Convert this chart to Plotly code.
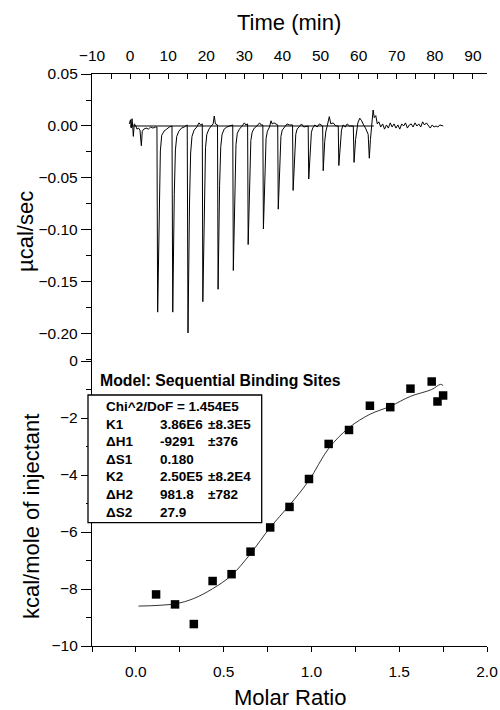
import plotly.graph_objects as go

# raw thermogram (time in min, power in ucal/sec)
raw_time = [
    -0.2, 0.1, 0.3, 0.5, 0.7, 0.85, 1.1, 1.4, 1.8, 2.2, 2.6, 2.95, 3.2, 3.6, 4.2, 4.8, 5.4, 6.0, 6.6, 7.05,
    7.24, 7.65, 7.95, 8.3, 8.9, 9.6, 10.3, 11.0,
    11.2, 11.6, 11.9, 12.25, 12.8, 13.5, 14.2, 15.0,
    15.2, 15.6, 15.9, 16.25, 16.8, 17.5, 18.1, 18.5, 18.95,
    19.1, 19.5, 19.8, 20.15, 20.7, 21.3, 21.8, 22.1, 22.4, 22.95,
    23.1, 23.5, 23.8, 24.15, 24.7, 25.4, 26.1, 26.95,
    27.1, 27.5, 27.8, 28.15, 28.7, 29.4, 30.0, 30.4, 30.85,
    31.0, 31.4, 31.7, 32.05, 32.6, 33.3, 34.0, 34.4, 34.85,
    35.0, 35.4, 35.7, 36.05, 36.6, 37.0, 37.3, 37.8, 38.75,
    38.9, 39.3, 39.6, 39.95, 40.5, 41.2, 41.8, 42.65,
    42.8, 43.2, 43.5, 43.85, 44.4, 45.0, 45.6, 46.75,
    46.9, 47.3, 47.6, 47.95, 48.5, 49.1, 49.7, 50.55,
    50.7, 51.1, 51.4, 51.75, 52.0, 52.3, 52.7, 53.3, 54.0, 54.65,
    54.8, 55.2, 55.5, 55.9, 56.5, 57.0, 57.6, 58.6,
    58.8, 59.2, 59.5, 59.8, 60.3, 60.8, 61.3, 61.8, 62.5,
    62.8, 63.1, 63.4, 63.8, 64.1, 64.5, 64.9, 65.3,
    65.8, 66.3, 66.8, 67.3, 67.8, 68.3, 68.8, 69.3, 69.8, 70.3, 70.8, 71.3,
    71.8, 72.3, 72.8, 73.3, 73.8, 74.3, 74.8, 75.3, 75.8, 76.3, 76.8, 77.3,
    77.8, 78.3, 78.8, 79.3, 79.8, 80.3, 80.8, 81.3, 81.8, 82.2,
]
raw_power = [
    0.002, 0.006, -0.002, 0.007, -0.001, -0.010, 0.002, 0.001, -0.003, -0.002, -0.004, -0.019, -0.005, -0.003, -0.002, -0.003, -0.001, -0.002, -0.001, -0.001,
    -0.179, -0.068, -0.024, -0.009, -0.005, -0.003, -0.001, 0.000,
    -0.179, -0.066, -0.023, -0.010, -0.005, -0.002, -0.001, 0.001,
    -0.199, -0.074, -0.026, -0.010, -0.004, -0.001, 0.003, 0.001, 0.002,
    -0.169, -0.062, -0.021, -0.008, -0.003, 0.000, 0.002, 0.0096, 0.002, 0.001,
    -0.157, -0.057, -0.020, -0.008, -0.003, -0.001, 0.000, 0.001,
    -0.139, -0.051, -0.018, -0.007, -0.003, 0.000, 0.003, 0.001, 0.002,
    -0.114, -0.042, -0.014, -0.006, -0.002, 0.000, 0.003, 0.001, 0.001,
    -0.099, -0.036, -0.012, -0.005, -0.001, 0.005, 0.002, 0.003, 0.001,
    -0.080, -0.029, -0.010, -0.004, -0.001, 0.002, 0.001, 0.001,
    -0.062, -0.023, -0.008, -0.003, 0.000, 0.002, -0.001, 0.000,
    -0.051, -0.018, -0.006, -0.002, 0.001, -0.001, 0.002, 0.000,
    -0.043, -0.015, -0.005, 0.000, 0.004, 0.009, 0.002, 0.003, 0.000, 0.000,
    -0.038, -0.013, -0.004, 0.001, -0.001, 0.002, 0.000, 0.000,
    -0.035, -0.013, -0.003, 0.003, 0.0075, 0.005, 0.001, -0.002, -0.008,
    -0.031, -0.013, 0.000, 0.0154, 0.008, 0.010, 0.002, 0.004,
    -0.001, 0.002, -0.003, 0.001, -0.002, 0.003, -0.001, 0.002, -0.002, 0.001, -0.003, 0.002,
    0.000, 0.003, -0.002, 0.001, 0.002, -0.001, 0.003, 0.000, 0.002, -0.001, 0.004, 0.001,
    0.003, 0.000, -0.002, 0.001, -0.001, 0.000, -0.001, 0.001, 0.000, 0.000,
]
baseline_time = [0.0, 64.0]
baseline_power = [0.0, 0.0]

# integrated heats
molar_ratio = [0.115, 0.223, 0.330, 0.437, 0.545, 0.653, 0.765, 0.875, 0.986,
               1.098, 1.214, 1.333, 1.449, 1.564, 1.685, 1.718, 1.750]
kcal_per_mol = [-8.19, -8.54, -9.23, -7.72, -7.48, -6.69, -5.84, -5.12, -4.14,
                -2.91, -2.42, -1.57, -1.62, -0.97, -0.72, -1.42, -1.21]

# fitted curve
fit_ratio = [0.015, 0.223, 0.327, 0.437, 0.545, 0.653, 0.765, 0.875, 0.986,
             1.098, 1.214, 1.333, 1.449, 1.564, 1.685, 1.735, 1.750]
fit_kcal = [-8.60, -8.52, -8.34, -7.99, -7.52, -6.76, -5.84, -5.06, -4.19,
            -3.07, -2.34, -1.87, -1.59, -1.24, -1.00, -0.82, -0.86]

model_name = "Model: Sequential Binding Sites"
chi_line = "Chi^2/DoF = 1.454E5"
param_names = ["K1", "ΔH1", "ΔS1", "K2", "ΔH2", "ΔS2"]
param_values = ["3.86E6", "-9291", "0.180", "2.50E5", "981.8", "27.9"]
param_errors = ["±8.3E5", "±376", "", "±8.2E4", "±782", ""]

FONT = "Arial, Liberation Sans, sans-serif"
W, H = 500, 710
L, R, T, B = 92, 13, 74, 64
PH = H - T - B
PW = W - L - R
split = (H - B - 361) / PH


def px(x):
    return (x - L) / PW


def py(y):
    return (H - B - y) / PH


fig = go.Figure()
fig.add_trace(go.Scatter(x=raw_time, y=raw_power, mode="lines",
                         line=dict(color="black", width=1), xaxis="x", yaxis="y"))
fig.add_trace(go.Scatter(x=baseline_time, y=baseline_power, mode="lines",
                         line=dict(color="black", width=1), xaxis="x", yaxis="y"))
fig.add_trace(go.Scatter(x=fit_ratio, y=fit_kcal, mode="lines",
                         line=dict(color="black", width=0.8, shape="spline"),
                         xaxis="x2", yaxis="y2"))
fig.add_trace(go.Scatter(x=molar_ratio, y=kcal_per_mol, mode="markers",
                         marker=dict(symbol="square", size=8.5, color="black"),
                         xaxis="x2", yaxis="y2"))

ax = dict(showgrid=False, zeroline=False, showline=True, linecolor="black",
          linewidth=1.3, tickcolor="black", tickwidth=1.3, automargin=False,
          tickfont=dict(family=FONT, size=15.5, color="black"))

fig.update_layout(
    width=W, height=H,
    margin=dict(l=L, r=R, t=T, b=B, autoexpand=False),
    paper_bgcolor="white", plot_bgcolor="white",
    showlegend=False,
    font=dict(family=FONT, color="black"),
    xaxis=dict(ax, domain=[0, 1], anchor="y", side="top", range=[-10, 93.7],
               tick0=-10, dtick=10, ticks="inside", ticklen=5, ticklabelstandoff=6,
               minor=dict(dtick=5, ticks="inside", ticklen=5, tickcolor="black", tickwidth=1.3)),
    yaxis=dict(ax, domain=[split, 1], anchor="x", range=[-0.226, 0.05],
               tick0=0, dtick=0.05, tickformat=".2f", ticks="outside", ticklen=10,
               minor=dict(dtick=0.025, ticks="outside", ticklen=5, tickcolor="black", tickwidth=1.3)),
    yaxis3=dict(ax, overlaying="y", anchor="x", side="right", range=[-0.226, 0.05],
                tick0=0, dtick=0.025, ticks="inside", ticklen=5, showticklabels=False),
    xaxis2=dict(ax, domain=[0, 1], anchor="y2", range=[-0.25, 2.0],
                tick0=0, dtick=0.5, tickformat=".1f", ticks="outside", ticklen=5, ticklabelstandoff=6,
                minor=dict(dtick=0.25, ticks="outside", ticklen=5, tickcolor="black", tickwidth=1.3)),
    xaxis3=dict(ax, overlaying="x2", anchor="y2", side="top", range=[-0.25, 2.0],
                tick0=0, dtick=0.25, ticks="inside", ticklen=5, showticklabels=False),
    yaxis2=dict(ax, domain=[0, split], anchor="x2", range=[-10, 0],
                tick0=0, dtick=2, ticks="outside", ticklen=10,
                minor=dict(dtick=1, ticks="outside", ticklen=5, tickcolor="black", tickwidth=1.3)),
    yaxis4=dict(ax, overlaying="y2", anchor="x2", side="right", range=[-10, 0],
                tick0=0, dtick=1, ticks="inside", ticklen=6, showticklabels=False),
)

# parameter box
fig.add_shape(type="rect", xref="paper", yref="paper",
              x0=px(88), x1=px(261.7), y0=py(522.7), y1=py(395),
              line=dict(color="black", width=1.3), fillcolor="white", layer="above")

annots = [
    dict(text="Time (min)", x=px(289), y=py(22), font=dict(size=22)),
    dict(text="Molar Ratio", x=px(290), y=py(697), font=dict(size=22)),
    dict(text="µcal/sec", x=px(25), y=py(232), textangle=-90, font=dict(size=22)),
    dict(text="kcal/mole of injectant", x=px(31), y=py(517), textangle=-90, font=dict(size=22)),
    dict(text="<b>" + model_name + "</b>", x=px(98), y=py(380.7), xanchor="left", font=dict(size=15.8)),
    dict(text="<b>" + chi_line + "</b>", x=px(104), y=py(406.7), xanchor="left", font=dict(size=13.5)),
]
rows_y = [424.3, 441.7, 459, 476.7, 494.3, 512.3]
for name, val, err, yy in zip(param_names, param_values, param_errors, rows_y):
    annots.append(dict(text="<b>" + name + "</b>", x=px(104), y=py(yy), xanchor="left", font=dict(size=13.5)))
    annots.append(dict(text="<b>" + val + "</b>", x=px(157.5), y=py(yy), xanchor="left", font=dict(size=13.5)))
    if err:
        annots.append(dict(text="<b>" + err + "</b>", x=px(206), y=py(yy), xanchor="left", font=dict(size=13.5)))

for a in annots:
    a.setdefault("xanchor", "center")
    a.update(xref="paper", yref="paper", yanchor="middle", showarrow=False)
    a["font"] = dict(family=FONT, color="black", **a["font"])
    fig.add_annotation(**a)

fig.write_html("out.html", config={"displayModeBar": False},
               post_script="document.body.style.margin='0';")
